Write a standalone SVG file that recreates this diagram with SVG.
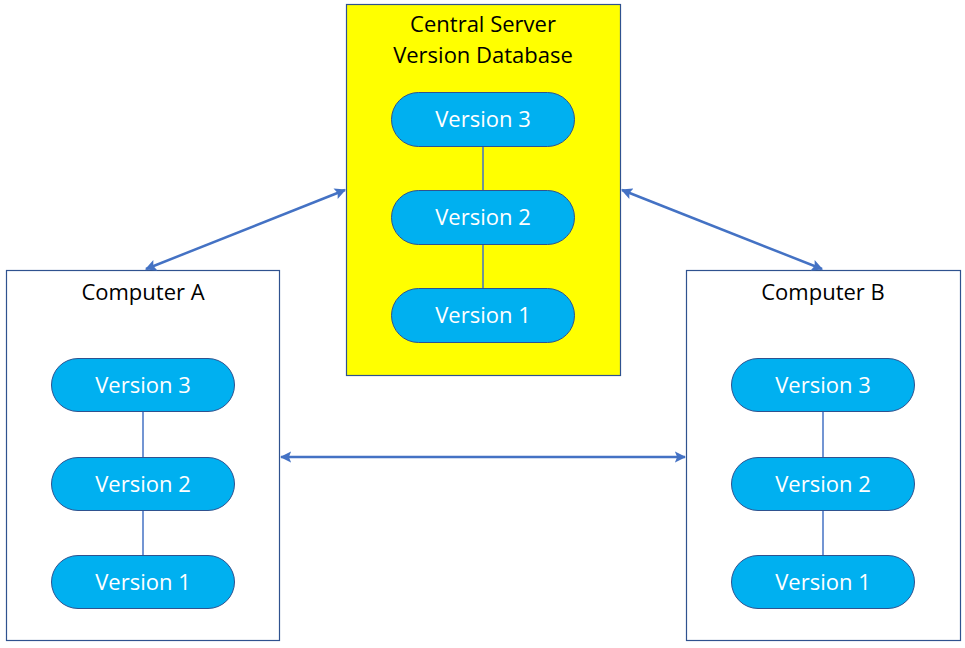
<svg xmlns="http://www.w3.org/2000/svg" width="965" height="648" viewBox="0 0 965 648">
<style>
.box{stroke:#2F528F;stroke-width:1.2}
.pill{fill:#00B0F0;stroke:#2F528F;stroke-width:1}
.pt{font-family:"Open Sans","Liberation Sans",sans-serif;font-size:22px;fill:#FFFFFF;text-anchor:middle}
.lbl{font-family:"Open Sans","Liberation Sans",sans-serif;font-size:22px;fill:#000000;text-anchor:middle}
.link{stroke:#4472C4;stroke-width:1.5}
.arr{stroke:#4472C4;stroke-width:2.5;fill:none;marker-start:url(#ah);marker-end:url(#ah)}
</style>
<defs>
<marker id="ah" viewBox="0 0 10 10" refX="9" refY="5" markerWidth="4.5" markerHeight="4.5" orient="auto-start-reverse" markerUnits="strokeWidth">
<path d="M0,0 L10,5 L0,10 L2,5 Z" fill="#4472C4"/>
</marker>
</defs>
<rect width="965" height="648" fill="#FFFFFF"/>
<g id="server">
<rect class="box" x="346.5" y="4.5" width="274" height="371" fill="#FFFF00"/>
<text class="lbl" x="483" y="32">Central Server</text>
<text class="lbl" x="483" y="63">Version Database</text>
<line class="link" x1="483" y1="146" x2="483" y2="190"/>
<line class="link" x1="483" y1="244" x2="483" y2="289"/>
</g>
<g id="computerA">
<rect class="box" x="6.5" y="270.5" width="273" height="370" fill="#FFFFFF"/>
<text class="lbl" x="143" y="300">Computer A</text>
<line class="link" x1="143" y1="411" x2="143" y2="457"/>
<line class="link" x1="143" y1="510" x2="143" y2="555"/>
</g>
<g id="computerB">
<rect class="box" x="686.5" y="270.5" width="274" height="370" fill="#FFFFFF"/>
<text class="lbl" x="823" y="300">Computer B</text>
<line class="link" x1="823" y1="411" x2="823" y2="457"/>
<line class="link" x1="823" y1="510" x2="823" y2="555"/>
</g>
<g id="server-v3"><rect class="pill" x="391.5" y="92.5" width="183" height="54" rx="27"/><text class="pt" x="483" y="127">Version 3</text></g>
<g id="server-v2"><rect class="pill" x="391.5" y="190.5" width="183" height="54" rx="27"/><text class="pt" x="483" y="225">Version 2</text></g>
<g id="server-v1"><rect class="pill" x="391.5" y="288.5" width="183" height="54" rx="27"/><text class="pt" x="483" y="323">Version 1</text></g>
<g id="a-v3"><rect class="pill" x="51.5" y="358.5" width="183" height="53" rx="26.5"/><text class="pt" x="143" y="393">Version 3</text></g>
<g id="a-v2"><rect class="pill" x="51.5" y="457.5" width="183" height="53" rx="26.5"/><text class="pt" x="143" y="492">Version 2</text></g>
<g id="a-v1"><rect class="pill" x="51.5" y="555.5" width="183" height="53" rx="26.5"/><text class="pt" x="143" y="590">Version 1</text></g>
<g id="b-v3"><rect class="pill" x="731.5" y="358.5" width="183" height="53" rx="26.5"/><text class="pt" x="823" y="393">Version 3</text></g>
<g id="b-v2"><rect class="pill" x="731.5" y="457.5" width="183" height="53" rx="26.5"/><text class="pt" x="823" y="492">Version 2</text></g>
<g id="b-v1"><rect class="pill" x="731.5" y="555.5" width="183" height="53" rx="26.5"/><text class="pt" x="823" y="590">Version 1</text></g>
<g id="connectors">
<line class="arr" x1="146" y1="269" x2="345" y2="190"/>
<line class="arr" x1="622" y1="190" x2="822" y2="269"/>
<line class="arr" x1="281" y1="457" x2="685" y2="457"/>
</g>
</svg>
